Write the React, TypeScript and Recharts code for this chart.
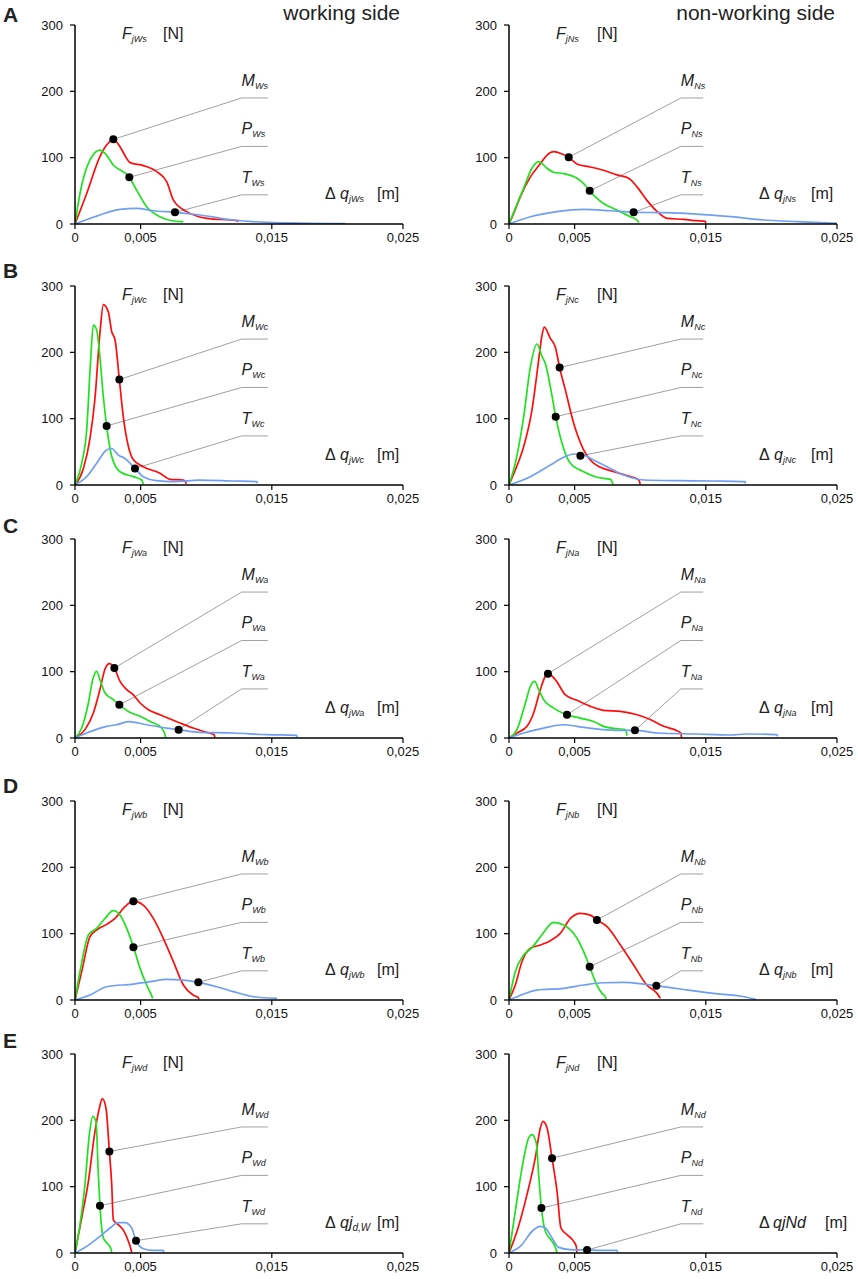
import React from 'react';
import { LineChart, Line, XAxis, YAxis, ReferenceLine, ReferenceDot } from 'recharts';

type Pt = [number, number];

// x values in mm (10^-3 m), y values in N
const xTicks = [0, 0.005, 0.015, 0.025];
const yTicks = [0, 100, 200, 300];

// Row A
const M_Ws: Pt[] = [[0,0],[0.89,46],[1.9,101.5],[2.41,119],[2.92,127.6],[3.43,116.6],[3.9,100],[4.19,92.5],[5.21,88],[6.23,79],[6.99,63.8],[7.5,36],[8.51,18.6],[10.04,8.5],[12.33,5],[12.45,3.5]];
const P_Ws: Pt[] = [[0,0],[0.38,46],[1.14,96.5],[1.9,111.5],[2.29,106.5],[2.92,89],[4.14,70.4],[4.7,51],[5.46,26],[6.48,11],[7.5,4.5],[8.26,3.5]];
const T_Ws: Pt[] = [[0,0],[1.9,13.6],[3.43,22],[4.7,23.6],[5.97,20],[7.62,17.6],[9.53,13.6],[12.07,6],[14.6,2.5],[20.6,0.5]];
const dots_Ws: Pt[] = [[2.92,127.6],[4.14,70.4],[7.62,17.6]];

const M_Ns: Pt[] = [[0,0],[0.36,16],[0.86,41],[1.63,71],[2.39,91],[2.9,104],[3.4,109],[4.04,105.5],[4.55,100.5],[5.18,90.5],[6.2,86],[7.2,81],[8.23,74],[9.12,69],[9.76,56],[10.5,36],[11.3,18.6],[12.05,8.5],[13.3,7],[14.3,5],[14.97,4],[15.0,1]];
const P_Ns: Pt[] = [[0,0],[0.48,23.6],[1.12,54],[1.75,84],[2.26,94],[2.5,91.5],[2.9,84],[3.4,78],[4.17,76],[5.18,69],[5.69,61],[6.15,50],[6.58,41],[7.2,31],[8.23,21],[9.25,11],[9.76,6],[9.9,2]];
const T_Ns: Pt[] = [[0,0],[1.63,11],[3.66,18.6],[5.69,22],[7.7,20],[9.5,17.6],[11.8,17],[14.3,15],[16.9,11],[19.4,6],[22,3.5],[25,1]];
const dots_Ns: Pt[] = [[4.55,100.5],[6.15,50],[9.5,17.6]];

// Row B
const M_Wc: Pt[] = [[0,0],[0.64,25],[1.14,70],[1.52,130],[1.9,229],[2.16,272],[2.54,261],[2.8,231],[3.05,219],[3.38,159],[3.68,103],[4.07,58],[4.45,38],[5.2,27.6],[6.48,17.6],[7.24,8.5],[8.26,7.5],[8.5,2]];
const P_Wc: Pt[] = [[0,0],[0.51,32.7],[0.89,83],[1.19,188],[1.4,241],[1.65,234],[1.9,193],[2.16,133],[2.41,89],[2.8,43],[3.43,20],[4.45,12.6],[5.08,7.5],[5.21,1]];
const T_Wc: Pt[] = [[0,0],[0.89,12.6],[1.65,32.7],[2.41,52.8],[2.8,55],[3.3,45],[3.81,40],[4.57,25],[5.2,12.6],[6.2,6.5],[7.5,5],[9.5,7.5],[12.1,6],[13.85,5],[13.9,2.5]];
const dots_Wc: Pt[] = [[3.38,159],[2.41,89],[4.57,25]];

const M_Nc: Pt[] = [[0,0],[0.48,22.6],[1.12,58],[1.75,113],[2.26,188],[2.5,224],[2.69,238],[3.15,221],[3.53,208],[3.86,177],[4.3,143],[4.93,93],[5.69,53],[6.45,33],[8,20],[9.25,12.6],[9.9,7.5],[10,1]];
const P_Nc: Pt[] = [[0,0],[0.48,32.7],[1.12,103],[1.63,178],[2.13,212.6],[2.5,194.5],[2.77,183],[3.2,143],[3.56,103],[4.04,63],[4.68,32.7],[5.69,20],[6.7,11.6],[7.73,8.5],[7.93,1]];
const T_Nc: Pt[] = [[0,0],[1.63,12.6],[3.15,30],[4.17,41.7],[4.93,46.7],[5.69,45],[6.45,37.7],[7.47,27.6],[8.74,15],[10.3,7.5],[13.06,6.5],[15.6,6],[18,5],[18.02,2.5]];
const dots_Nc: Pt[] = [[3.86,177],[3.56,103],[5.44,44]];

// Row C
const M_Wa: Pt[] = [[0,0],[0.76,12.6],[1.4,37.7],[1.9,73],[2.29,104],[2.62,112],[3.0,105.5],[3.43,85.4],[3.94,73],[4.45,65],[4.96,52.8],[5.6,42.7],[6.48,35],[8,22.6],[9,15],[10.04,8.5],[10.6,5],[10.67,1]];
const P_Wa: Pt[] = [[0,0],[0.51,15],[1.02,52.8],[1.35,88],[1.65,100.5],[1.9,88],[2.29,67.8],[2.92,57.8],[3.38,50],[4.07,40],[4.96,32.7],[5.72,25],[6.6,15],[6.86,5],[6.9,1]];
const T_Wa: Pt[] = [[0,0],[0.89,7.5],[2.41,17.6],[3.18,20],[4.07,24.6],[5.46,20],[7,15],[7.9,12.6],[9.5,8.5],[12.07,7.5],[14.6,5],[16.9,4],[16.95,1]];
const dots_Wa: Pt[] = [[3.0,105.5],[3.38,50],[7.9,12.6]];

const M_Na: Pt[] = [[0,0],[0.61,7.5],[1.37,17.6],[1.88,37.7],[2.39,73],[2.77,93],[2.97,97],[3.53,88],[4.3,65],[5.18,56.8],[6.2,47.7],[7.2,41.7],[8.5,40],[9.76,35],[10.8,27.6],[11.8,17.6],[12.8,11],[13.1,7.5],[13.14,1]];
const P_Na: Pt[] = [[0,0],[0.61,12.6],[1.25,52.8],[1.63,78],[1.96,85.4],[2.26,73],[2.64,57.8],[3.4,45],[4.42,35],[5.44,30],[6.45,25],[7.2,17.6],[8.23,14],[8.87,12.6],[9.0,3.5]];
const T_Na: Pt[] = [[0,0],[1.12,7.5],[2.64,15],[4.17,20],[5.18,17.6],[6.45,14],[8.23,11.6],[9.6,11.6],[11.3,7.5],[14.3,6],[16.9,4.5],[18.1,6],[20.4,5],[20.5,2.5]];
const dots_Na: Pt[] = [[2.97,97],[4.42,35],[9.6,11.6]];

// Row D
const M_Wb: Pt[] = [[0,0],[0.51,42.7],[1.14,95.5],[1.65,105.5],[2.41,114],[3.05,123],[3.81,140.7],[4.45,149],[5.2,143],[5.97,123],[6.73,93],[7.5,57.8],[8.26,22.6],[9.0,7.5],[9.4,3.5],[9.45,0.5]];
const P_Wb: Pt[] = [[0,0],[0.38,42.7],[1.02,98],[1.65,108],[2.29,123],[2.92,134.7],[3.43,128],[3.94,108],[4.45,80.4],[4.96,47.7],[5.46,22.6],[5.77,10],[5.92,2.5]];
const T_Wb: Pt[] = [[0,0],[1.14,7.5],[2.41,20],[4.45,24],[5.72,27.6],[6.99,31],[8.26,30],[9.4,26.6],[10.8,20],[12.07,12.6],[13.6,5],[15.4,2.5]];
const dots_Wb: Pt[] = [[4.45,149],[4.45,79.4],[9.4,26.6]];

const M_Nb: Pt[] = [[0,0],[0.48,22.6],[0.99,58],[1.63,78],[2.39,83],[3.15,89.4],[3.91,100.5],[4.68,123],[5.44,130.7],[6.2,128],[6.7,120.6],[7.47,110.5],[8.49,83],[9.5,52.8],[10.5,22.6],[11.28,10],[11.54,2.5]];
const P_Nb: Pt[] = [[0,0],[0.48,42.7],[1.12,67.8],[1.75,79],[2.5,98],[3.4,117],[4.17,113],[5.18,93],[5.69,72.9],[6.15,50],[6.7,22.6],[7.09,10],[7.34,5],[7.4,0.5]];
const T_Nb: Pt[] = [[0,0],[0.61,5],[2.13,15],[4.17,17.6],[5.69,22.6],[7.2,26],[8.74,26.6],[10.26,24],[11.23,21.6],[13.06,16.6],[15.6,10],[17.6,6],[18.8,1]];
const dots_Nb: Pt[] = [[6.7,120.6],[6.15,50],[11.23,21.6]];

// Row E
const M_Wd: Pt[] = [[0,0],[0.51,52.8],[1.02,108],[1.52,183],[1.86,218.6],[2.08,232.7],[2.36,218.6],[2.62,153],[2.8,103],[2.92,50],[3.3,42.7],[3.74,32.7],[4.07,17.6],[4.24,7.5],[4.32,0.5]];
const P_Wd: Pt[] = [[0,0],[0.38,42.7],[0.76,103],[1.09,178],[1.35,206],[1.6,198.5],[1.78,118],[1.9,71.4],[2.16,22.6],[2.54,12.6],[2.74,6.5],[2.8,0.5]];
const T_Wd: Pt[] = [[0,0],[0.89,10],[1.9,25],[2.67,37.7],[3.3,45.7],[3.81,45.7],[4.32,37.7],[4.65,18.6],[5.21,6.5],[5.97,4],[6.73,4],[6.76,0.5]];
const dots_Wd: Pt[] = [[2.62,153],[1.9,71.4],[4.65,18.6]];

const M_Nd: Pt[] = [[0,0],[0.61,32.7],[1.37,88],[2.0,143],[2.39,188.4],[2.59,198.5],[2.9,188.4],[3.28,143],[3.66,93],[3.96,37.7],[4.42,27.6],[4.93,17.6],[5.13,10],[5.18,0.5]];
const P_Nd: Pt[] = [[0,0],[0.48,62.8],[0.99,128],[1.5,173.4],[1.75,178.4],[2.08,165.8],[2.26,118],[2.47,67.8],[2.77,32.7],[3.28,17.6],[3.6,5],[3.66,0.5]];
const T_Nd: Pt[] = [[0,0],[0.86,10],[1.88,35],[2.39,40],[2.77,37.7],[3.28,22.6],[3.79,8.5],[4.68,5],[5.95,4.5],[7.2,4],[8.23,4],[8.28,0.5]];
const dots_Nd: Pt[] = [[3.28,143],[2.47,67.8],[5.95,4.5]];

// leader-line label levels (N) and elbow/end x (mm)
const levelsHigh = [220, 147, 74];
const levelsLow = [190, 117, 44];
const leaderX_W = [12.7, 14.7];
const leaderX_N = [13.1, 14.8];

const rowLetters = ['A', 'B', 'C', 'D', 'E'];
const rowCodes = ['s', 'c', 'a', 'b', 'd'];
const seriesNames = ['M', 'P', 'T'];

const FONT = "'Liberation Sans', Arial, Helvetica, sans-serif";
const RED = '#ff0d0d';
const GREEN = '#1fe21f';
const BLUE = '#6f9ff2';
const GREY = '#a0a0a0';

const ROW_TOPS = [25, 286, 539, 801, 1054];
const LETTER_BASE = [22, 278, 533, 793, 1048];
const PLOT_H = 199;
const GEO = {
  W: { left: 0, width: 430, ml: 35, mr: 27, axisX: 75 },
  N: { left: 430, width: 428, ml: 39, mr: 21, axisX: 509 },
};

type PanelDef = { row: number; side: 'W' | 'N'; M: Pt[]; P: Pt[]; T: Pt[]; dots: Pt[]; levels: number[] };

const panels: PanelDef[] = [
  { row: 0, side: 'W', M: M_Ws, P: P_Ws, T: T_Ws, dots: dots_Ws, levels: levelsLow },
  { row: 0, side: 'N', M: M_Ns, P: P_Ns, T: T_Ns, dots: dots_Ns, levels: levelsLow },
  { row: 1, side: 'W', M: M_Wc, P: P_Wc, T: T_Wc, dots: dots_Wc, levels: levelsHigh },
  { row: 1, side: 'N', M: M_Nc, P: P_Nc, T: T_Nc, dots: dots_Nc, levels: levelsHigh },
  { row: 2, side: 'W', M: M_Wa, P: P_Wa, T: T_Wa, dots: dots_Wa, levels: levelsHigh },
  { row: 2, side: 'N', M: M_Na, P: P_Na, T: T_Na, dots: dots_Na, levels: levelsHigh },
  { row: 3, side: 'W', M: M_Wb, P: P_Wb, T: T_Wb, dots: dots_Wb, levels: levelsLow },
  { row: 3, side: 'N', M: M_Nb, P: P_Nb, T: T_Nb, dots: dots_Nb, levels: levelsLow },
  { row: 4, side: 'W', M: M_Wd, P: P_Wd, T: T_Wd, dots: dots_Wd, levels: levelsLow },
  { row: 4, side: 'N', M: M_Nd, P: P_Nd, T: T_Nd, dots: dots_Nd, levels: levelsLow },
];

const toData = (pts: Pt[]) => pts.map(([x, y]) => ({ x: x / 1000, y }));
const fmtX = (v: number) => (v === 0 ? '0' : v.toFixed(3).replace('.', ','));

const makeLabel = (name: string, sub: string) => (props: any) => {
  const vb = props.viewBox || {};
  const x = vb.x ?? vb.x1 ?? 0;
  const y = vb.y ?? vb.y1 ?? 0;
  return (
    <text x={x} y={y - 12} fontFamily={FONT} fontSize={16} fontStyle="italic" fill="#222">
      {name}
      <tspan fontSize={9} dy={3}>{sub}</tspan>
    </text>
  );
};

function Panel({ p }: { p: PanelDef }) {
  const g = GEO[p.side];
  const lx = p.side === 'W' ? leaderX_W : leaderX_N;
  const top = ROW_TOPS[p.row];
  const sub = p.side + rowCodes[p.row];
  const series = [
    { d: p.M, c: RED },
    { d: p.P, c: GREEN },
    { d: p.T, c: BLUE },
  ];
  return (
    <div style={{ position: 'absolute', left: g.left, top: top - 10 }}>
      <LineChart
        width={g.width}
        height={10 + PLOT_H + 30}
        margin={{ top: 10, right: g.mr, left: g.ml, bottom: 0 }}
      >
        <XAxis
          type="number"
          dataKey="x"
          domain={[0, 0.025]}
          ticks={xTicks}
          interval={0}
          allowDataOverflow
          tickFormatter={fmtX}
          height={30}
          tickSize={5}
          tickMargin={4}
          axisLine={{ stroke: '#000', strokeWidth: 1.5 }}
          tickLine={{ stroke: '#000', strokeWidth: 1.2 }}
          tick={{ fontSize: 13, fill: '#111', fontFamily: FONT }}
        />
        <YAxis
          type="number"
          domain={[0, 300]}
          ticks={yTicks}
          interval={0}
          allowDataOverflow
          width={40}
          tickSize={5}
          tickMargin={7}
          axisLine={{ stroke: '#000', strokeWidth: 1.5 }}
          tickLine={{ stroke: '#000', strokeWidth: 1.2 }}
          tick={{ fontSize: 13, fill: '#111', fontFamily: FONT }}
        />
        {p.dots.map((d, i) => (
          <ReferenceLine
            key={'diag' + i}
            segment={[{ x: d[0] / 1000, y: d[1] }, { x: lx[0] / 1000, y: p.levels[i] }]}
            stroke={GREY}
            strokeWidth={1}
          />
        ))}
        {p.dots.map((d, i) => (
          <ReferenceLine
            key={'hor' + i}
            segment={[{ x: lx[0] / 1000, y: p.levels[i] }, { x: lx[1] / 1000, y: p.levels[i] }]}
            stroke={GREY}
            strokeWidth={1}
            label={makeLabel(seriesNames[i], sub)}
          />
        ))}
        {series.map((s, i) => (
          <Line
            key={'s' + i}
            data={toData(s.d)}
            dataKey="y"
            type="monotone"
            stroke={s.c}
            strokeWidth={1.7}
            dot={false}
            activeDot={false}
            isAnimationActive={false}
          />
        ))}
        {p.dots.map((d, i) => (
          <ReferenceDot key={'dot' + i} x={d[0] / 1000} y={d[1]} r={4} fill="#000" stroke="none" />
        ))}
      </LineChart>
    </div>
  );
}

function PanelTexts({ p }: { p: PanelDef }) {
  const g = GEO[p.side];
  const ax = g.axisX;
  const top = ROW_TOPS[p.row];
  const zero = top + PLOT_H;
  const code = rowCodes[p.row];
  const base = zero - 25;
  let dq: React.ReactNode;
  if (p.row === 4 && p.side === 'W') {
    dq = (
      <text x={ax + 265} y={base} fontStyle="italic">
        qj<tspan fontSize={10} dy={3}>d,W</tspan>
      </text>
    );
  } else if (p.row === 4 && p.side === 'N') {
    dq = (
      <text x={ax + 264} y={base} fontStyle="italic">
        qjNd
      </text>
    );
  } else {
    dq = (
      <text x={ax + 265} y={base} fontStyle="italic">
        q<tspan fontSize={9} dy={3}>{'j' + p.side + code}</tspan>
      </text>
    );
  }
  const mX = p.row === 4 && p.side === 'N' ? ax + 316 : ax + 302;
  return (
    <g fontFamily={FONT} fontSize={16} fill="#222">
      <text x={ax + 47} y={top + 14} fontStyle="italic">
        F<tspan fontSize={9} dy={3}>{'j' + p.side + code}</tspan>
      </text>
      <text x={ax + 88} y={top + 14}>[N]</text>
      <text x={ax + 250} y={base}>Δ</text>
      {dq}
      <text x={mX} y={base}>[m]</text>
    </g>
  );
}

export default function App() {
  return (
    <div style={{ position: 'absolute', left: 0, top: 0, width: 858, height: 1279, background: '#fff', overflow: 'hidden' }}>
      {panels.map((p, i) => (
        <Panel key={i} p={p} />
      ))}
      <svg width={858} height={1279} style={{ position: 'absolute', left: 0, top: 0, pointerEvents: 'none' }}>
        {rowLetters.map((l, i) => (
          <text key={l} x={3} y={LETTER_BASE[i]} fontFamily={FONT} fontSize={21} fontWeight="bold" fill="#222">
            {l}
          </text>
        ))}
        <text x={400} y={20} textAnchor="end" fontFamily={FONT} fontSize={21} fill="#222">working side</text>
        <text x={835} y={20} textAnchor="end" fontFamily={FONT} fontSize={21} fill="#222">non-working side</text>
        {panels.map((p, i) => (
          <PanelTexts key={i} p={p} />
        ))}
      </svg>
    </div>
  );
}
